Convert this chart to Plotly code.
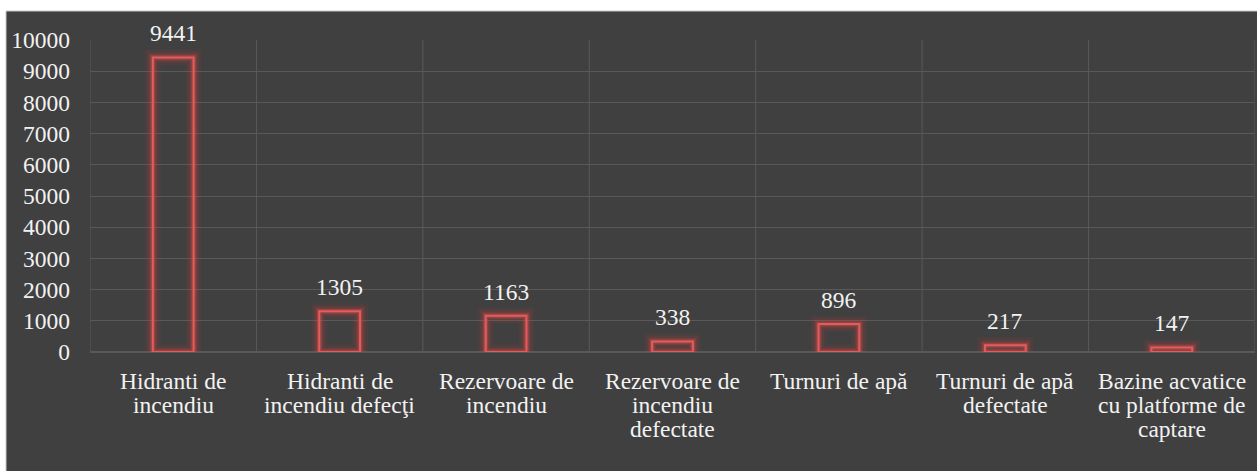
import plotly.graph_objects as go

categories = [
    "Hidranti de<br>incendiu",
    "Hidranti de<br>incendiu defecţi",
    "Rezervoare de<br>incendiu",
    "Rezervoare de<br>incendiu<br>defectate",
    "Turnuri de apă",
    "Turnuri de apă<br>defectate",
    "Bazine acvatice<br>cu platforme de<br>captare",
]
values = [9441, 1305, 1163, 338, 896, 217, 147]
y_ticks = list(range(0, 10001, 1000))

W, H = 1257, 471
ML, MR, MT, MB = 90, 2, 40, 119
BG = "#404040"
GRID = "#595959"
FONT = "Liberation Serif"
TXT = "#f2f2f2"
FS = 23.5
BAR_W = 0.245
LINE_H = 24

fig = go.Figure()

# glow layers
for lw, col in [(16, "rgba(230,60,60,0.07)"), (11, "rgba(230,60,60,0.11)"),
                (7, "rgba(230,70,70,0.18)"), (4.5, "rgba(230,80,80,0.30)")]:
    fig.add_trace(go.Bar(x=categories, y=values, width=BAR_W,
                         marker=dict(color="rgba(0,0,0,0)", line=dict(color=col, width=lw)),
                         hoverinfo="skip", showlegend=False))
# main outline
fig.add_trace(go.Bar(x=categories, y=values, width=BAR_W,
                     marker=dict(color="rgba(0,0,0,0)", line=dict(color="#e35b5b", width=2)),
                     showlegend=False))

# value labels
for c, v in zip(categories, values):
    fig.add_annotation(x=c, y=v, text=str(v), showarrow=False, yanchor="bottom",
                       yshift=9, font=dict(family=FONT, size=FS, color=TXT))

# category labels (one annotation per line for tight line spacing)
for c in categories:
    for i, line in enumerate(c.split("<br>")):
        fig.add_annotation(x=c, xref="x", yref="paper", y=0, text=line,
                           showarrow=False, yanchor="middle",
                           yshift=-(29 + LINE_H * i),
                           font=dict(family=FONT, size=FS, color=TXT))

# dark background panel
pw = W - ML - MR
ph = H - MT - MB
fig.add_shape(type="rect", xref="paper", yref="paper", layer="below",
              x0=(6 - ML) / pw, x1=(W - ML + 2) / pw,
              y0=-(MB + 2) / ph, y1=(H - MB - 11) / ph,
              fillcolor=BG, line=dict(color="#c8c8c8", width=1))

# vertical gridlines at category boundaries
for i in range(len(categories) + 1):
    fig.add_shape(type="line", xref="x", yref="y", layer="below",
                  x0=i - 0.5, x1=i - 0.5, y0=0, y1=y_ticks[-1],
                  line=dict(color=GRID, width=1))

fig.update_layout(
    width=W, height=H,
    margin=dict(l=ML, r=MR, t=MT, b=MB, autoexpand=False),
    paper_bgcolor="white", plot_bgcolor=BG,
    barmode="overlay",
    font=dict(family=FONT, size=FS, color=TXT),
    xaxis=dict(showgrid=False, showline=False, zeroline=False, ticks="",
               showticklabels=False, automargin=False,
               range=[-0.5, len(categories) - 0.5]),
    yaxis=dict(range=[0, 10000], tickvals=y_ticks, tickformat="d", showgrid=True,
               gridcolor=GRID, gridwidth=1, zeroline=True, zerolinecolor=GRID,
               showline=False, ticks="", ticklabelstandoff=19, automargin=False,
               tickfont=dict(family=FONT, size=FS, color=TXT)),
)

fig.write_html("out.html", config={"displayModeBar": False},
               post_script="document.body.style.margin='0';document.body.style.overflow='hidden';")
